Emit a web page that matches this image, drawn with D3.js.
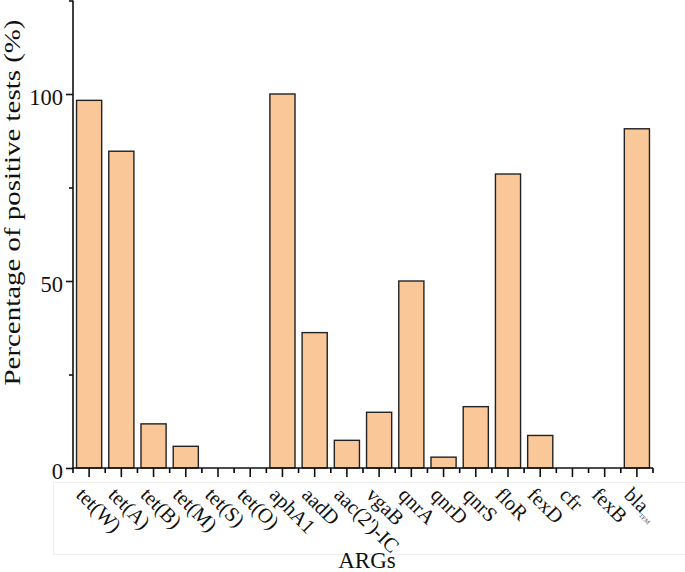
<!DOCTYPE html>
<html lang="en">
<head>
<meta charset="UTF-8">
<title>ARGs</title>
<script src="https://d3js.org/d3.v7.min.js"></script>
<style>
  body { margin: 0; background: #fff; }
  text { font-family: "Liberation Serif", "Times New Roman", serif; fill: #111; }
</style>
</head>
<body>
<div id="chart"></div>
<script>
  // genes on the x axis and percentage of positive tests
  const genes = ["tet(W)", "tet(A)", "tet(B)", "tet(M)", "tet(S)", "tet(O)", "aphA1", "aadD",
    "aac(2')-IC", "vgaB", "qnrA", "qnrD", "qnrS", "floR", "fexD", "cfr", "fexB", "blaTEM"];
  const positive = [98.3, 84.7, 11.8, 5.8, 0, 0, 100, 36.2, 7.4, 14.9, 50, 2.9, 16.4, 78.6, 8.7, 0, 0, 90.7];
  const yTicks = [0, 50, 100];
  const yMinor = [25, 75, 125];

  const width = 685, height = 572;
  const mLeft = 73, mRight = 653, mTop = 0.5, mBottom = 468;

  const svg = d3.select("#chart").append("svg")
    .attr("width", width).attr("height", height);

  const x = d3.scaleBand().domain(genes).range([mLeft, mRight]).paddingInner(0.22).paddingOuter(0.11);
  const y = d3.scaleLinear().domain([0, 125]).range([mBottom, mTop]);

  // faint box behind the tick labels
  svg.append("rect")
    .attr("x", 53.5).attr("y", 482.5).attr("width", 640).attr("height", 72)
    .attr("fill", "none").attr("stroke", "#eeeeee");

  // bars
  svg.selectAll("rect.bar")
    .data(genes)
    .enter()
    .append("rect")
    .attr("class", "bar")
    .attr("x", d => x(d))
    .attr("width", x.bandwidth())
    .attr("y", (d, i) => y(positive[i]))
    .attr("height", (d, i) => y(0) - y(positive[i]))
    .attr("fill", "#fac898")
    .attr("stroke", "#222")
    .attr("stroke-width", 1.4);

  // y axis
  const yAxis = svg.append("g").attr("transform", `translate(${mLeft},0)`)
    .call(d3.axisLeft(y).tickValues(yTicks).tickSize(7).tickPadding(3));
  svg.append("g").attr("transform", `translate(${mLeft},0)`)
    .call(d3.axisLeft(y).tickValues(yMinor).tickSize(4).tickFormat(""))
    .select(".domain").remove();
  yAxis.select(".domain").attr("d", `M0,${mTop}V${mBottom}`);
  yAxis.selectAll("text")
    .attr("dy", "0.45em")
    .style("font-size", "22.5px")
    .style("font-family", "Liberation Serif")
    .attr("fill", "#222");

  // x axis: major ticks at bar centres, minor ticks between bars
  const step = x.step();
  const xAxis = svg.append("g").attr("transform", `translate(0,${mBottom})`)
    .call(d3.axisBottom(x).tickSize(9).tickFormat(""));
  xAxis.select(".domain").attr("d", `M${mLeft},0H${mRight}`);
  const edges = d3.range(genes.length + 1).map(i => mLeft + i * step);
  xAxis.selectAll("line.minor")
    .data(edges)
    .enter()
    .append("line")
    .attr("class", "minor")
    .attr("x1", d => d).attr("x2", d => d)
    .attr("y1", 0).attr("y2", 5)
    .attr("stroke", "#000");
  svg.selectAll(".domain, .tick line").attr("stroke", "#111").attr("stroke-width", 1.6);
  xAxis.selectAll("line.minor").attr("stroke-width", 1.6);

  // rotated tick labels
  const labels = svg.selectAll("text.glab")
    .data(genes)
    .enter()
    .append("text")
    .attr("class", "glab")
    .attr("transform", d => `translate(${x(d) + x.bandwidth() / 2 - 14},${mBottom + 28}) rotate(45)`)
    .style("font-size", "20.5px");
  labels.each(function (d) {
    const t = d3.select(this);
    if (d === "blaTEM") {
      t.append("tspan").text("bla");
      t.append("tspan").text("TEM").attr("dy", 3).style("font-size", "6px").attr("fill", "#444");
    } else {
      t.text(d);
    }
  });

  // axis titles
  svg.append("text")
    .attr("transform", `translate(20,202.5) rotate(-90)`)
    .attr("text-anchor", "middle")
    .attr("textLength", 366)
    .attr("lengthAdjust", "spacingAndGlyphs")
    .style("font-size", "23px")
    .attr("fill", "#222")
    .text("Percentage of positive tests (%)");

  svg.append("text")
    .attr("x", 367).attr("y", 568)
    .attr("text-anchor", "middle")
    .style("font-size", "23px")
    .attr("fill", "#222")
    .text("ARGs");
</script>
</body>
</html>
